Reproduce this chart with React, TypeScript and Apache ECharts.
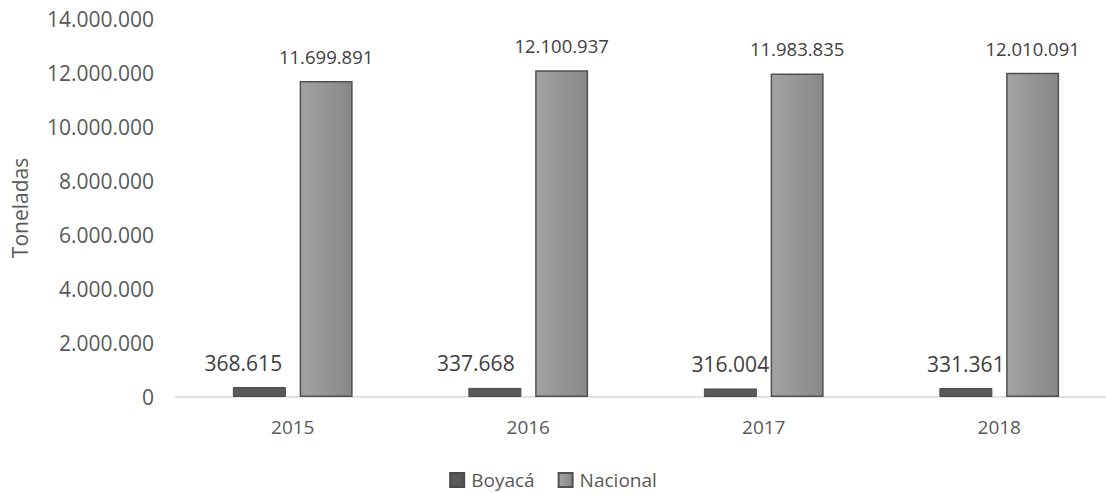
import React, { useEffect, useRef } from "react";
import * as echarts from "echarts";

const categories = ["2015", "2016", "2017", "2018"];
const boyaca = [368615, 337668, 316004, 331361];
const nacional = [11699891, 12100937, 11983835, 12010091];
const seriesNames = ["Boyacá", "Nacional"];
const yTickInterval = 2000000;
const yMax = 14000000;

// horizontal nudges of the Boyacá value labels, as placed in the original
const boyacaLabelShift = [-16, -19, 0, 0];

const fmt = (v: number) => String(Math.round(v)).replace(/\B(?=(\d{3})+(?!\d))/g, ".");

export default function App() {
  const ref = useRef<HTMLDivElement>(null);
  useEffect(() => {
    if (!ref.current) return;
    const chart = echarts.init(ref.current, undefined, { renderer: "svg" });
    const font = "Open Sans, Noto Sans, sans-serif";
    chart.setOption({
      animation: false,
      textStyle: { fontFamily: font },
      legend: {
        top: 465,
        left: "center",
        itemWidth: 14,
        itemHeight: 14,
        itemGap: 23,
        icon: "rect",
        textStyle: { color: "#595959", fontSize: 19, lineHeight: 20, fontFamily: font, padding: [0, 0, 0, 2] },
        data: seriesNames,
      },
      grid: {
        left: 175,
        top: 19,
        width: 942,
        bottom: 96,
        containLabel: false,
        outerBoundsMode: "none",
      },
      xAxis: {
        type: "category",
        data: categories,
        axisLine: { show: true, lineStyle: { color: "#d9d9d9", width: 1.5 } },
        axisTick: { show: false },
        axisLabel: { color: "#595959", fontSize: 19, margin: 20 },
      },
      yAxis: {
        type: "value",
        min: 0,
        max: yMax,
        interval: yTickInterval,
        name: "Toneladas",
        nameLocation: "middle",
        nameGap: 145,
        nameRotate: 90,
        nameTextStyle: { color: "#595959", fontSize: 21 },
        splitLine: { show: false },
        axisLine: { show: false },
        axisTick: { show: false },
        axisLabel: { color: "#595959", fontSize: 21, margin: 21, formatter: (v: number) => fmt(v) },
      },
      series: [
        {
          name: seriesNames[0],
          type: "bar",
          data: boyaca.map((v, i) => ({
            value: v,
            label: { offset: [boyacaLabelShift[i], 0] },
          })),
          barWidth: 53,
          barGap: "26%",
          itemStyle: { color: "#595959", borderColor: "#4a4a4a", borderWidth: 1 },
          label: {
            show: true,
            position: "top",
            distance: 14,
            color: "#404040",
            fontSize: 21,
            formatter: (p: any) => fmt(p.value),
          },
        },
        {
          name: seriesNames[1],
          type: "bar",
          data: nacional,
          barWidth: 53,
          itemStyle: {
            color: new echarts.graphic.LinearGradient(0, 0, 1, 0, [
              { offset: 0, color: "#a3a3a3" },
              { offset: 1, color: "#878787" },
            ]),
            borderColor: "#505050",
            borderWidth: 1.5,
          },
          label: {
            show: true,
            position: "top",
            distance: 15,
            color: "#404040",
            fontSize: 18.5,
            formatter: (p: any) => fmt(p.value),
          },
        },
      ],
    });
    return () => chart.dispose();
  }, []);
  return (
    <div
      ref={ref}
      style={{ position: "absolute", left: 0, top: 0, width: 1106, height: 493, overflow: "hidden" }}
    />
  );
}
